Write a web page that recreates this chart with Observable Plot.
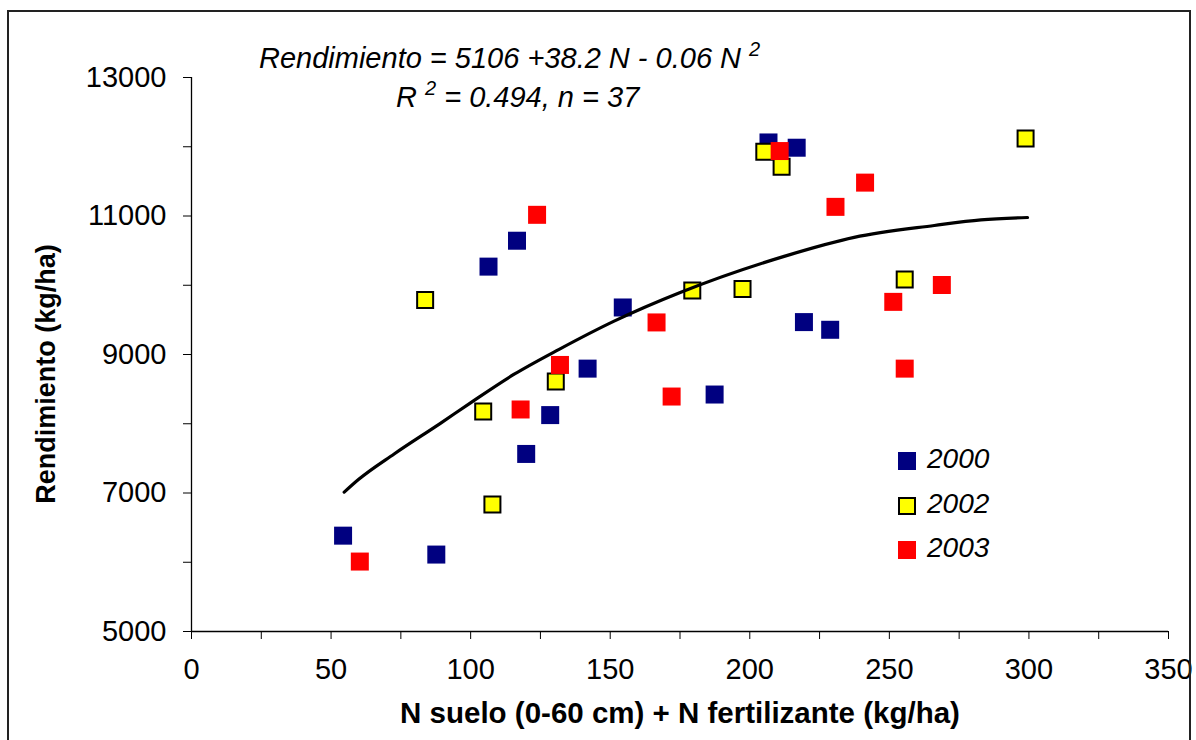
<!DOCTYPE html>
<html>
<head>
<meta charset="utf-8">
<script src="https://cdn.jsdelivr.net/npm/d3@7"></script>
<script src="https://cdn.jsdelivr.net/npm/@observablehq/plot@0.6"></script>
<style>
  html, body { margin: 0; padding: 0; background: #fff; }
  #wrap { position: relative; width: 1196px; height: 740px; overflow: hidden; font-family: "Liberation Sans", Arial, sans-serif; }
  #border { position: absolute; left: 7px; top: 10px; width: 1184px; height: 760px; border: 2px solid #222; box-sizing: border-box; }
  .txt { position: absolute; white-space: nowrap; color: #000; line-height: 1; }
  .eq { font-size: 29px; font-style: italic; }
  .eq sup { font-size: 20px; vertical-align: 0; position: relative; top: -12px; }
  .lg { font-size: 28px; font-style: italic; }
  .sw { position: absolute; width: 18px; height: 18px; box-sizing: border-box; }
  .ttl { font-size: 27px; font-weight: bold; }
  .xttl { font-size: 29.5px; font-weight: bold; }
  #chart { position: absolute; left: 0; top: 0; }
  #chart svg g[aria-label="x-axis tick label"], #chart svg g[aria-label="y-axis tick label"] { font-size: 29px; }
</style>
</head>
<body>
<div id="wrap">
  <div id="chart"></div>
  <div id="border"></div>
</div>
<script>
// ---- data ----
const years = ["2000", "2002", "2003"];
const colors = ["#000080", "#FFFF00", "#FF0000"];

const n2000 = [54.3, 87.7, 106.4, 116.6, 119.9, 128.5, 141.9, 154.5, 187.4, 206.7, 216.8, 219.4, 228.8];
const y2000 = [6384, 6111, 10269, 10643, 7564, 8125, 8796, 9679, 8422, 12062, 11986, 9468, 9357];

const n2002 = [83.7, 104.5, 107.8, 130.5, 179.4, 197.4, 205.2, 211.4, 255.5, 298.8];
const y2002 = [9788, 8177, 6835, 8609, 9924, 9947, 11928, 11712, 10082, 12119];

const n2003 = [60.3, 117.9, 123.8, 132.0, 166.6, 172.0, 210.7, 230.7, 241.3, 251.4, 255.5, 268.8];
const y2003 = [6010, 8206, 11017, 8849, 9463, 8393, 11938, 11132, 11482, 9760, 8796, 10004];

// fitted curve as drawn in the reference
const curveN = [54.7, 59.8, 72.6, 89.3, 100.1, 115.6, 131.7, 151.4, 175.3, 212.3, 237.4, 266.1, 282.8, 299.5];
const curveY = [7012, 7194, 7564, 8010, 8306, 8715, 9075, 9482, 9899, 10417, 10691, 10863, 10945, 10978];

const xTicks = d3.range(0, 351, 25);
const yTicks = d3.range(5000, 13001, 1000);

const xTitle = "N suelo (0-60 cm) + N fertilizante (kg/ha)";
const yTitle = "Rendimiento (kg/ha)";

// ---- build tables ----
const pts = (ns, ys) => ns.map((n, i) => ({n, y: ys[i]}));
const d2000 = pts(n2000, y2000);
const d2002 = pts(n2002, y2002);
const d2003 = pts(n2003, y2003);
const curve = pts(curveN, curveY);

const side = 18;
const rFull = side / Math.sqrt(Math.PI);
const rYel = (side - 2) / Math.sqrt(Math.PI);

const plot = Plot.plot({
  width: 1196,
  height: 740,
  marginLeft: 191,
  marginRight: 28,
  marginTop: 77,
  marginBottom: 109,
  style: {fontFamily: "'Liberation Sans', Arial, sans-serif", background: "transparent", color: "#000"},
  x: {domain: [0, 350]},
  y: {domain: [5000, 13000]},
  marks: [
    Plot.axisX({ticks: xTicks, tickFormat: d => d % 50 === 0 ? String(d) : "", tickSize: 8, tickPadding: 19, fontSize: 29, label: null, stroke: "#000", strokeOpacity: 1}),
    Plot.axisY({ticks: yTicks, tickFormat: d => (d - 5000) % 2000 === 0 ? String(d) : "", tickSize: 8, tickPadding: 17, fontSize: 29, label: null, stroke: "#000", strokeOpacity: 1}),
    Plot.ruleX([0], {stroke: "#000", strokeWidth: 1.3}),
    Plot.ruleY([5000], {stroke: "#000", strokeWidth: 1.3}),
    Plot.dot(d2000, {x: "n", y: "y", symbol: "square", r: rFull, fill: colors[0], stroke: "none"}),
    Plot.dot(d2002, {x: "n", y: "y", symbol: "square", r: rYel, fill: colors[1], stroke: "#000", strokeWidth: 2}),
    Plot.dot(d2003, {x: "n", y: "y", symbol: "square", r: rFull, fill: colors[2], stroke: "none"}),
    Plot.line(curve, {x: "n", y: "y", stroke: "#000", strokeWidth: 3.2, curve: "monotone-x"})
  ]
});
document.getElementById("chart").appendChild(plot);

const wrap = document.getElementById("wrap");
function addText(html, cls, left, top) {
  const d = document.createElement("div");
  d.className = "txt " + cls;
  d.innerHTML = html;
  d.style.left = left + "px";
  d.style.top = top + "px";
  wrap.appendChild(d);
  return d;
}
// equation annotation
addText("Rendimiento = 5106 +38.2 N - 0.06 N <sup>2</sup>", "eq", 259, 44);
addText("R <sup>2</sup> = 0.494, n = 37", "eq", 396, 83);

// legend
const legendTops = [452, 497, 541];
years.forEach((yr, i) => {
  const sw = document.createElement("div");
  sw.className = "sw";
  sw.style.left = "898px";
  sw.style.top = legendTops[i] + "px";
  sw.style.background = colors[i];
  if (i === 1) sw.style.border = "2px solid #000";
  wrap.appendChild(sw);
  addText(yr, "lg", 927, legendTops[i] - 7);
});

// axis titles
const xt = addText(xTitle, "xttl", 0, 698);
xt.style.width = "1360px";
xt.style.textAlign = "center";
const yt = addText(yTitle, "ttl", 46, 374);
yt.style.transform = "translate(-50%, -50%) rotate(-90deg)";
</script>
</body>
</html>
